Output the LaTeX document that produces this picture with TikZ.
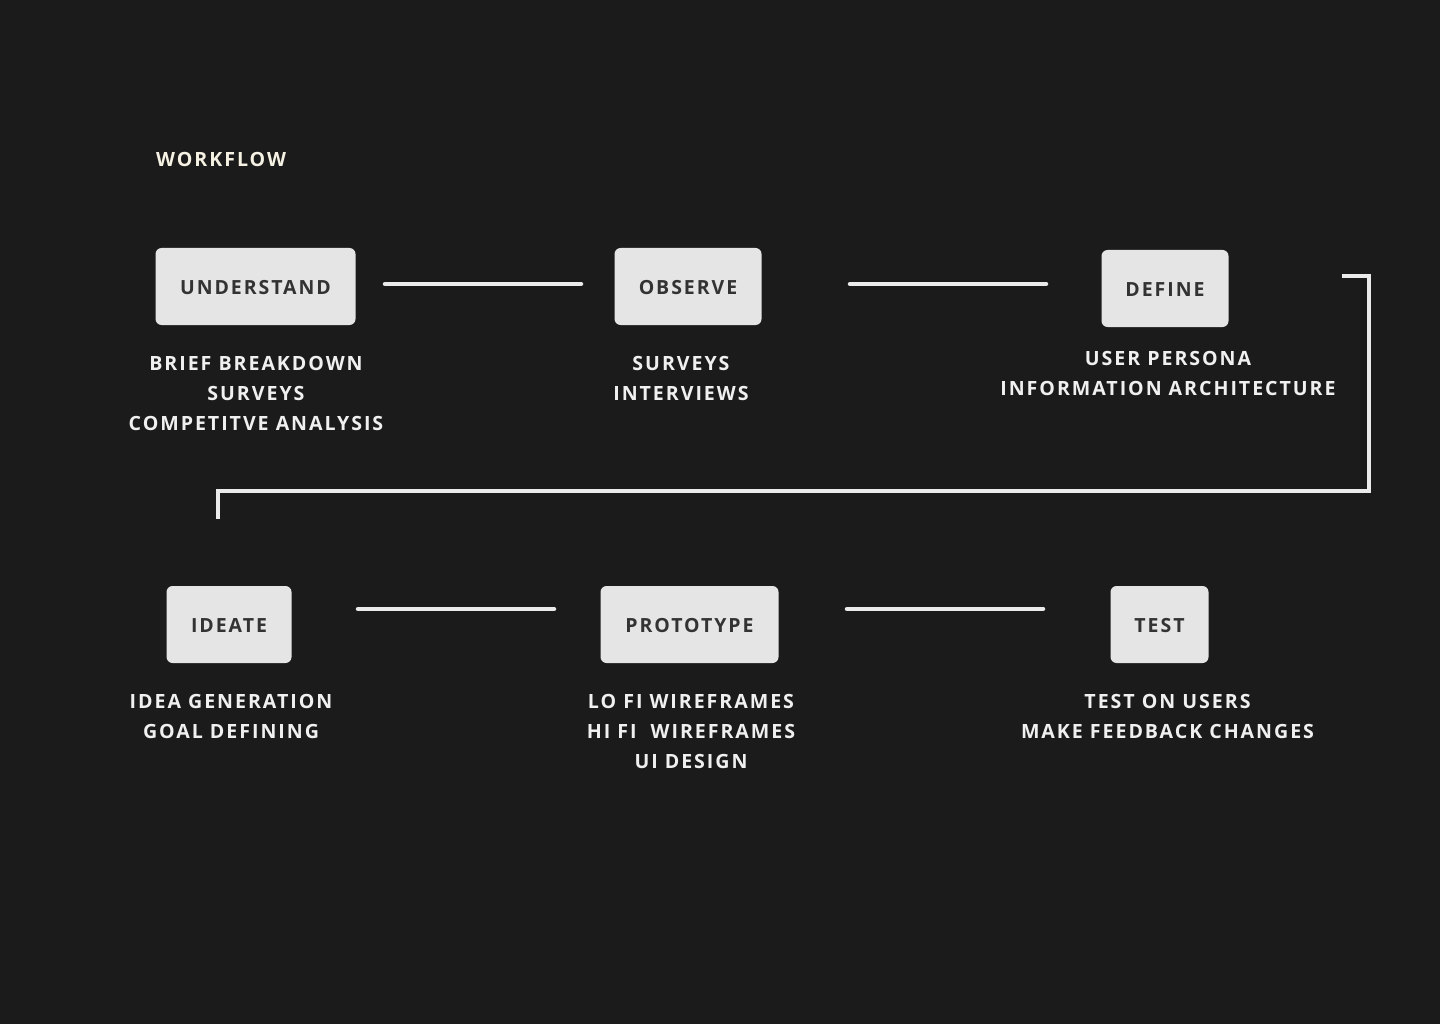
\documentclass[tikz,border=0pt]{standalone}
\usepackage{fontspec}
\setmainfont{Open Sans}[LetterSpace=10]
\definecolor{bg}{HTML}{1C1B1C}
\definecolor{boxfill}{HTML}{E5E5E5}
\definecolor{boxtext}{HTML}{333333}
\definecolor{labeltext}{HTML}{F0F0F0}
\definecolor{titletext}{HTML}{F5F1E3}
\definecolor{linecol}{HTML}{EBEBEB}
\tikzset{
  stepbox/.style={fill=boxfill, rounded corners=6pt, inner sep=0pt, text=boxtext,
    font=\fontsize{19.5}{24}\selectfont\bfseries, minimum height=77pt,
    text height=16.9pt, text depth=0pt},
  desc/.style={text=labeltext, align=center, inner sep=0pt, anchor=north,
    font=\fontsize{19.6}{30}\selectfont\bfseries},
  link/.style={draw=linecol, line width=4.5pt, line cap=round},
  bracket/.style={draw=linecol, line width=4.5pt, line join=miter},
}
\begin{document}
\begin{tikzpicture}[x=1pt,y=-1pt]
\fill[bg] (0,0) rectangle (1440,1024);
\useasboundingbox (0,0) rectangle (1440,1024);

\node[text=titletext, font=\fontsize{19.6}{22}\selectfont\bfseries, anchor=west, inner sep=0pt] (title) at (156,159.5) {WORKFLOW};

\node[stepbox, minimum width=200pt] (understand) at (255.5,286.5) {UNDERSTAND};
\node[stepbox, minimum width=147pt] (observe) at (688,286.5) {OBSERVE};
\node[stepbox, minimum width=127pt] (define) at (1165,288.5) {DEFINE};
\node[stepbox, minimum width=125pt] (ideate) at (229,624.5) {IDEATE};
\node[stepbox, minimum width=178pt] (prototype) at (689.5,624.5) {PROTOTYPE};
\node[stepbox, minimum width=98pt] (test) at (1159.5,624.5) {TEST};

\node[desc] (understandd) at (256,356.5) {BRIEF BREAKDOWN\\SURVEYS\\COMPETITVE ANALYSIS};
\node[desc] (observed) at (681,356.5) {SURVEYS\\INTERVIEWS};
\node[desc] (defined) at (1168,351.5) {USER PERSONA\\INFORMATION ARCHITECTURE};
\node[desc] (ideated) at (231,694.5) {IDEA GENERATION\\GOAL DEFINING};
\node[desc] (prototyped) at (691,694.5) {LO FI WIREFRAMES\\HI FI \ WIREFRAMES\\UI DESIGN};
\node[desc] (testd) at (1167.5,694.5) {TEST ON USERS\\MAKE FEEDBACK CHANGES};

\coordinate (l1a) at (385,284); \coordinate (l1b) at (581,284);
\coordinate (l2a) at (850,284); \coordinate (l2b) at (1046,284);
\coordinate (l3a) at (358,609); \coordinate (l3b) at (554,609);
\coordinate (l4a) at (847,609); \coordinate (l4b) at (1043,609);
\draw[link] (l1a) -- (l1b);
\draw[link] (l2a) -- (l2b);
\draw[link] (l3a) -- (l3b);
\draw[link] (l4a) -- (l4b);

\coordinate (ba) at (1342,276);
\coordinate (bb) at (1369,276);
\coordinate (bc) at (1369,491);
\coordinate (bd) at (218,491);
\coordinate (be) at (218,519);
\draw[bracket] (ba) -- (bb) -- (bc) -- (bd) -- (be);
\end{tikzpicture}
\end{document}
